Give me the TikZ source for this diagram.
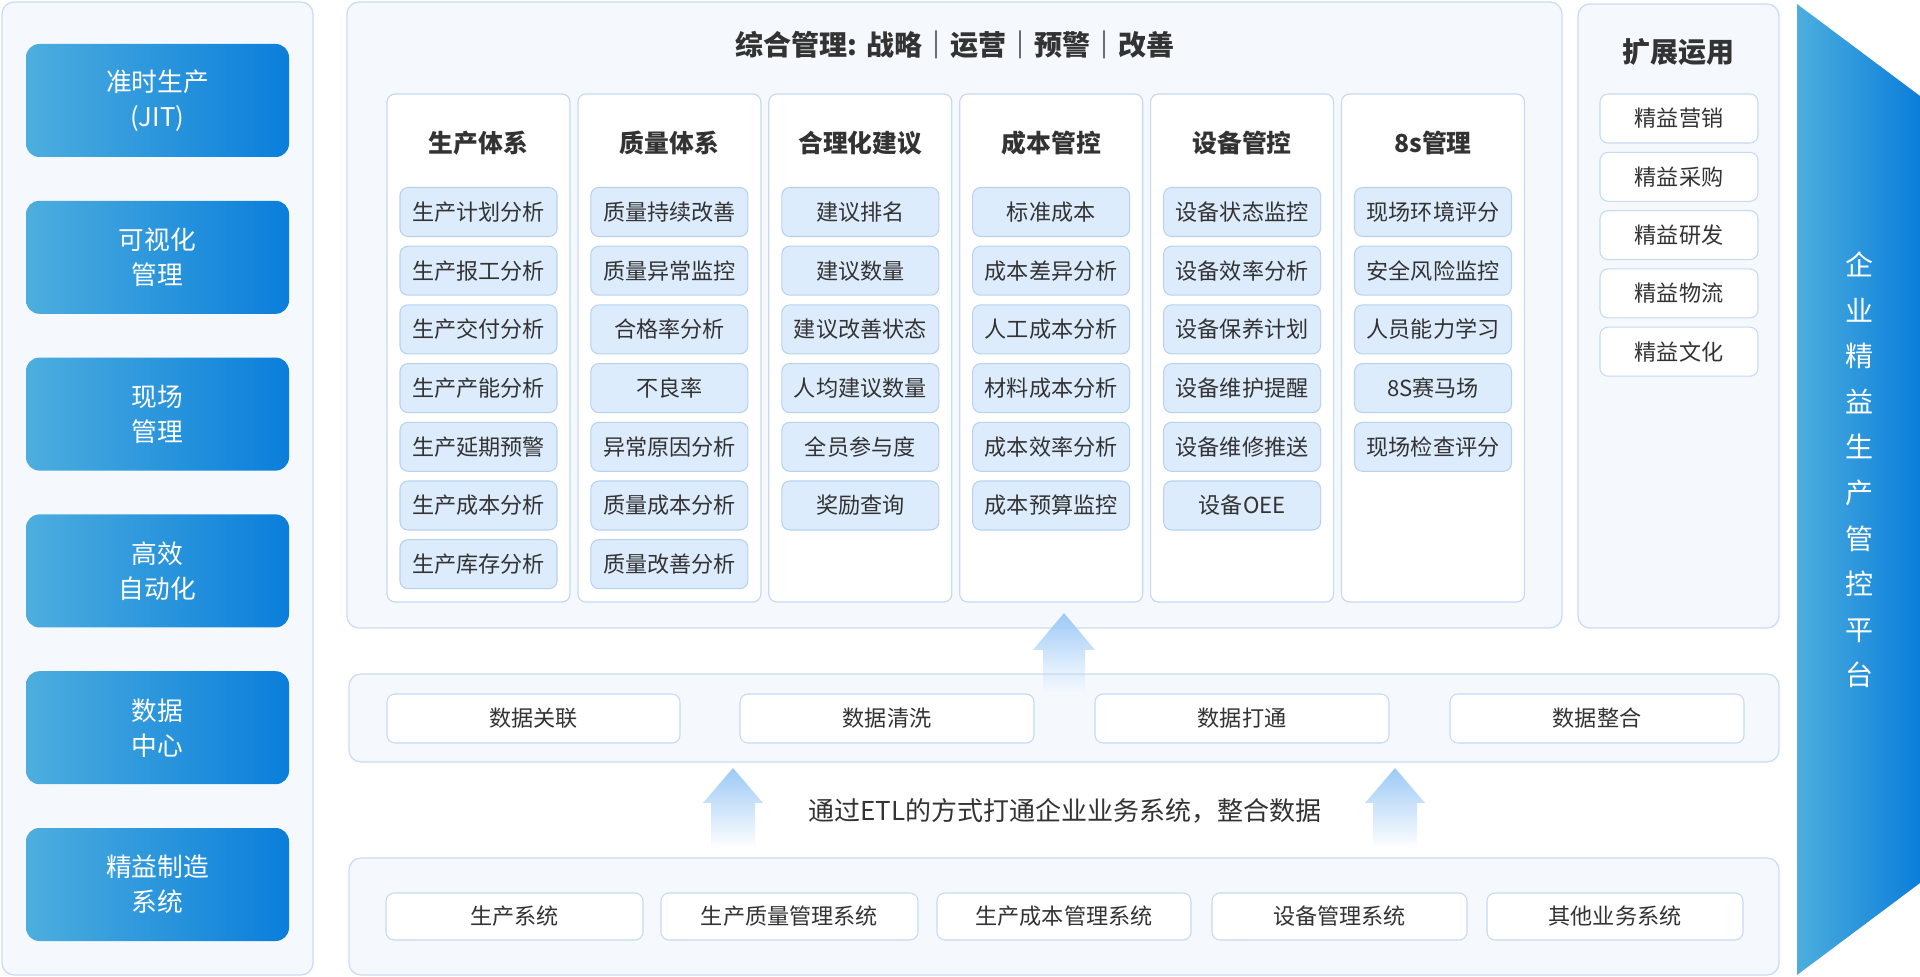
\documentclass[tikz,border=0pt]{standalone}
\usepackage{fontspec}
\setmainfont{Noto Sans CJK SC}
\usetikzlibrary{fadings}
\definecolor{panelfill}{HTML}{F5F9FE}
\definecolor{panelline}{HTML}{CCDDF2}
\definecolor{colline}{HTML}{C6DAF2}
\definecolor{itemfill}{HTML}{DDECFC}
\definecolor{itemline}{HTML}{B7D2F0}
\definecolor{txt}{HTML}{333333}
\definecolor{gradL}{HTML}{4DAEDE}
\definecolor{gradR}{HTML}{0A7EDB}
\definecolor{arrowc}{HTML}{9DCAF7}
\tikzset{
  panel/.style={draw=panelline, fill=panelfill, rounded corners=9pt, line width=1pt},
  bluebox/.style={left color=gradL, right color=gradR, rounded corners=10pt, text=white, align=center, font=\fontsize{19.3}{26.25}\selectfont},
  colbox/.style={draw=colline, fill=white, rounded corners=6pt, line width=0.9pt},
  colhead/.style={text=txt, font=\fontsize{18.6}{22}\selectfont\bfseries},
  item/.style={draw=itemline, fill=itemfill, rounded corners=6pt, text=txt, font=\fontsize{16.6}{18}\selectfont, line width=0.8pt},
  wbox/.style={draw=colline, fill=white, rounded corners=6pt, text=txt, font=\fontsize{16.6}{18}\selectfont, line width=0.8pt},
  uparrow/.style={fill=arrowc, path fading=south},
}
% style, name, x1, y1, x2, y2, text
\newcommand\bx[7]{\node[#1, minimum width={(#5-#3)*0.75pt}, minimum height={(#6-#4)*0.75pt}, inner sep=0pt] (#2) at ({(#3+#5)/2},{(#4+#6)/2}) {#7};}
% index, header, items
\newcommand\mkcol[3]{%
  \pgfmathsetmacro\cxa{387+190.9*#1}%
  \pgfmathsetmacro\cxb{\cxa+183}%
  \pgfmathsetmacro\cxc{\cxa+91.5}%
  \bx{colbox}{col#1}{\cxa}{94}{\cxb}{602}{}
  \node[colhead] (colh#1) at (\cxc,143) {#2};
  \foreach \t [count=\j from 0] in {#3} {
    \pgfmathsetmacro\yy{212+58.7*\j}
    \node[item, minimum width=117.75pt, minimum height=36.75pt, inner sep=0pt] (it#1-\j) at (\cxc,\yy) {\t};
  }
}
\begin{document}
\begin{tikzpicture}[x=0.75pt, y=-0.75pt]
\useasboundingbox (0,0) rectangle (1920,977);
\fill[white] (0,0) rectangle (1920,977);
% left panel
\bx{panel}{leftp}{2}{2}{313}{975}{}
\foreach \t [count=\i from 0] in {准时生产\\(JIT), 可视化\\管理, 现场\\管理, 高效\\自动化, 数据\\中心, 精益制造\\系统} {
  \pgfmathsetmacro\ya{44+156.8*\i}
  \pgfmathsetmacro\yb{\ya+113}
  \bx{bluebox}{lb\i}{26}{\ya}{289}{\yb}{\t}
}
% main panel
\bx{panel}{mainp}{347}{2}{1562}{628}{}
\node[text=txt, font=\fontsize{21}{24}\selectfont\bfseries] (title) at (955,45) {综合管理: 战略｜运营｜预警｜改善};
\mkcol{0}{生产体系}{生产计划分析,生产报工分析,生产交付分析,生产产能分析,生产延期预警,生产成本分析,生产库存分析}
\mkcol{1}{质量体系}{质量持续改善,质量异常监控,合格率分析,不良率,异常原因分析,质量成本分析,质量改善分析}
\mkcol{2}{合理化建议}{建议排名,建议数量,建议改善状态,人均建议数量,全员参与度,奖励查询}
\mkcol{3}{成本管控}{标准成本,成本差异分析,人工成本分析,材料成本分析,成本效率分析,成本预算监控}
\mkcol{4}{设备管控}{设备状态监控,设备效率分析,设备保养计划,设备维护提醒,设备维修推送,设备OEE}
\mkcol{5}{8s管理}{现场环境评分,安全风险监控,人员能力学习,8S赛马场,现场检查评分}
% extension panel
\bx{panel}{extp}{1578}{4}{1779}{628}{}
\node[text=txt, font=\fontsize{21}{24}\selectfont\bfseries] (exth) at (1678,52) {扩展运用};
\foreach \t [count=\j from 0] in {精益营销,精益采购,精益研发,精益物流,精益文化} {
  \pgfmathsetmacro\ya{94+58.3*\j}
  \pgfmathsetmacro\yb{\ya+49}
  \bx{wbox}{ext\j}{1600}{\ya}{1758}{\yb}{\t}
}
% data panel
\bx{panel}{datap}{349}{674}{1779}{762}{}
\bx{wbox}{d0}{387}{694}{680}{743}{数据关联}
\bx{wbox}{d1}{740}{694}{1034}{743}{数据清洗}
\bx{wbox}{d2}{1095}{694}{1389}{743}{数据打通}
\bx{wbox}{d3}{1450}{694}{1744}{743}{数据整合}
% bottom panel
\bx{panel}{sysp}{349}{858}{1779}{975}{}
\bx{wbox}{s0}{386}{893}{643}{940}{生产系统}
\bx{wbox}{s1}{661}{893}{918}{940}{生产质量管理系统}
\bx{wbox}{s2}{937}{893}{1191}{940}{生产成本管理系统}
\bx{wbox}{s3}{1212}{893}{1467}{940}{设备管理系统}
\bx{wbox}{s4}{1487}{893}{1743}{940}{其他业务系统}
\node[text=txt, font=\fontsize{19.5}{22}\selectfont] (etl) at (1065,811) {通过ETL的方式打通企业业务系统，整合数据};
% up arrows
\fill[uparrow] (733,768) -- (763,803) -- (755,803) -- (755,848) -- (711,848) -- (711,803) -- (703,803) -- cycle;
\fill[uparrow] (1395,768) -- (1425,803) -- (1417,803) -- (1417,848) -- (1373,848) -- (1373,803) -- (1365,803) -- cycle;
\fill[uparrow] (1064,613) -- (1095,650) -- (1085,650) -- (1085,692) -- (1043,692) -- (1043,650) -- (1033,650) -- cycle;
% right chevron
\shade[left color=gradL, right color=gradR] (1797,4) -- (1920,96) -- (1920,883) -- (1797,975) -- cycle;
\node[text=white, align=center, font=\fontsize{21}{34.2}\selectfont] (plat) at (1859,470) {企\\业\\精\\益\\生\\产\\管\\控\\平\\台};
\end{tikzpicture}
\end{document}
